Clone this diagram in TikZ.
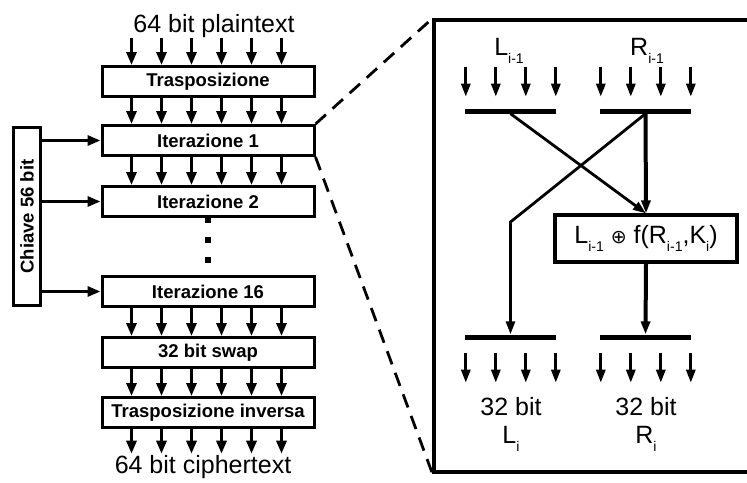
\documentclass[tikz,border=0pt]{standalone}
\usepackage{fontspec}
\setmainfont{Liberation Sans}
\newfontfamily\dejavufont{DejaVu Sans}
\usetikzlibrary{arrows.meta,positioning}
\newcommand{\lowidx}[1]{\raisebox{-8.5pt}{\fontsize{14}{14}\selectfont #1}}
\newcommand{\xorsym}{{\dejavufont\fontsize{19}{19}\selectfont ⊕}}
\tikzset{
desbox/.style={
  draw,
  line width=3pt,
  minimum width=212pt,
  minimum height=30pt,
  inner sep=0pt,
  font=\fontsize{18.5}{20}\selectfont\bfseries
},
keybox/.style={
  draw,
  line width=3pt,
  minimum width=27pt,
  minimum height=178pt,
  inner sep=0pt,
  font=\fontsize{18.5}{20}\selectfont\bfseries
},
iotext/.style={
  inner sep=1pt,
  font=\fontsize{25}{28}\selectfont
},
bitarrow/.style={
  -{Triangle[length=13pt,width=10pt]},
  line width=3pt
},
subarrow/.style={
  -{Triangle[length=13pt,width=9pt]},
  line width=2.8pt
},
dot/.style={
  fill,
  minimum size=6.5pt,
  inner sep=0pt
},
roundbox/.style={
  draw,
  line width=3.2pt,
  minimum width=420pt,
  minimum height=452pt
},
zoomline/.style={
  line width=2.8pt,
  dash pattern=on 14pt off 9pt
},
bar/.style={
  fill,
  minimum width=91pt,
  minimum height=5pt,
  inner sep=0pt
},
fbox/.style={
  draw,
  line width=3.2pt,
  minimum width=182pt,
  minimum height=47pt,
  inner sep=0pt,
  font=\fontsize{25}{28}\selectfont
},
wire/.style={
  -{Triangle[length=13pt,width=9pt]},
  line width=2.8pt
},
thickwire/.style={
  -{Triangle[length=13pt,width=9pt]},
  line width=4pt
},
sublabel/.style={
  inner sep=3pt,
  font=\fontsize{25}{28}\selectfont
},
outlabel/.style={
  inner sep=0pt,
  align=center,
  font=\fontsize{25}{28}\selectfont
}
}

\begin{document}
\begin{tikzpicture}[x=1pt, y=-1pt]
\path[use as bounding box, clip] (0,0) rectangle (747,482);

% DES chain
\node[iotext, anchor=base] (plain) at (214,32) {64 bit plaintext};
\node[desbox] (trasp) at (208,81.5) {Trasposizione};
\node[desbox, below=26pt of trasp] (iter1) {Iterazione 1};
\node[desbox, below=28pt of iter1] (iter2) {Iterazione 2};
\node[desbox, below=57pt of iter2] (iter16) {Iterazione 16};
\node[desbox, below=28pt of iter16] (swap) {32 bit swap};
\node[desbox, below=27pt of swap] (inv) {Trasposizione inversa};
\node[iotext, anchor=base] (cipher) at (203,473) {64 bit ciphertext};

\foreach \y [count=\k] in {220,240,260}
  \node[dot] (dot\k) at (208,\y) {};

\foreach \i in {0,...,5}{
  \draw[bitarrow] ([xshift={31pt+30pt*\i}]trasp.north west |- plain.south) -- ([xshift={31pt+30pt*\i}]trasp.north west);
  \draw[bitarrow] ([xshift={31pt+30pt*\i}]inv.south west) -- ([xshift={31pt+30pt*\i}]inv.south west |- cipher.north);
}
\foreach \a/\b in {trasp/iter1,iter1/iter2,iter16/swap,swap/inv}
  \foreach \i in {0,...,5}
    \draw[bitarrow] ([xshift={31pt+30pt*\i}]\a.south west) -- ([xshift={31pt+30pt*\i}]\b.north west);

% key
\node[keybox] (chiave) at (27,216.5) {\rotatebox{90}{Chiave 56 bit}};
\foreach \n in {iter1,iter2,iter16}
  \draw[bitarrow] (chiave.east |- \n.west) -- (\n.west);

% one round
\node[roundbox] (round) at (644,246) {};
\draw[zoomline] (iter1.north east) -- (round.north west);
\draw[zoomline] (iter1.south east) -- (round.south west);

\node[sublabel, anchor=base] (llab) at (509,55) {L\lowidx{i-1}};
\node[sublabel, anchor=base] (rlab) at (647,55) {R\lowidx{i-1}};
\node[bar] (lin) at (510.5,111) {};
\node[bar] (rin) at (645.5,111) {};
\node[fbox] (fbox) at (646,238.5) {L\lowidx{i-1} \xorsym{} f(R\lowidx{i-1},K\lowidx{i})};
\node[bar] (lout) at (510.5,337) {};
\node[bar] (rout) at (645.5,337) {};
\node[outlabel, anchor=north] (lres) at (511,397) {32 bit\\L\lowidx{i}};
\node[outlabel, anchor=north] (rres) at (646,397) {32 bit\\R\lowidx{i}};

\foreach \b/\l in {lin/llab,rin/rlab}
  \foreach \i in {0,...,3}
    \draw[subarrow] ([xshift={1pt+30pt*\i}]\b.west |- \l.south) -- ++(0,30);
\foreach \b in {lout,rout}
  \foreach \i in {0,...,3}
    \draw[subarrow] ([xshift={1pt+30pt*\i},yshift=-13pt]\b.south west) -- ++(0,30);

\coordinate (bend) at (510.5,222);
\draw[wire] (lin.south) -- (fbox.north);
\draw[thickwire] (rin.south) -- (fbox.north);
\draw[wire] (rin.south) -- (bend) -- (lout.north);
\draw[thickwire] (fbox.south) -- (rout.north);

\end{tikzpicture}
\end{document}
